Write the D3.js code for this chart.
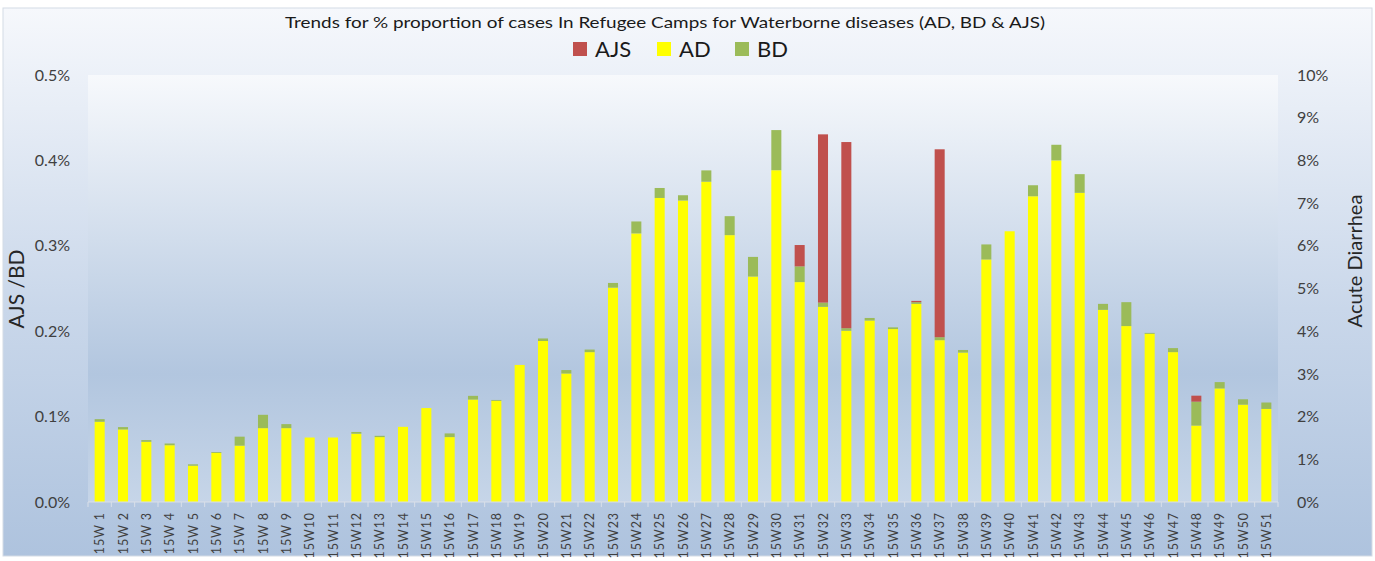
<!DOCTYPE html>
<html>
<head>
<meta charset="utf-8">
<script src="https://cdn.jsdelivr.net/npm/d3@7.9.0/dist/d3.min.js"></script>
<style>
  html, body { margin: 0; padding: 0; background: #fff; }
  svg { display: block; font-family: Lato, "Open Sans", sans-serif; }
</style>
</head>
<body>
<svg id="chart" width="1375" height="561"></svg>
<script>
const weeks = ['15W 1','15W 2','15W 3','15W 4','15W 5','15W 6','15W 7','15W 8','15W 9','15W10',
  '15W11','15W12','15W13','15W14','15W15','15W16','15W17','15W18','15W19','15W20',
  '15W21','15W22','15W23','15W24','15W25','15W26','15W27','15W28','15W29','15W30',
  '15W31','15W32','15W33','15W34','15W35','15W36','15W37','15W38','15W39','15W40',
  '15W41','15W42','15W43','15W44','15W45','15W46','15W47','15W48','15W49','15W50','15W51'];

// Acute Diarrhea, % (right axis)
const adValues = [1.88,1.70,1.41,1.33,0.85,1.15,1.32,1.73,1.73,1.51,
  1.51,1.60,1.52,1.76,2.20,1.52,2.40,2.37,3.21,3.77,
  3.01,3.51,5.02,6.29,7.12,7.06,7.50,6.25,5.28,7.77,
  5.15,4.57,4.01,4.25,4.05,4.64,3.79,3.50,5.68,6.34,
  7.16,8.00,7.24,4.50,4.12,3.94,3.51,1.79,2.66,2.28,2.18];

// Bloody Diarrhea, % (left axis)
const bdValues = [0.003,0.0027,0.002,0.002,0.0016,0.001,0.0105,0.0156,0.0047,0,
  0,0.002,0.0015,0,0,0.0043,0.0043,0.001,0,0.003,
  0.004,0.003,0.0055,0.014,0.0117,0.0062,0.0133,0.0222,0.023,0.047,
  0.0184,0.005,0.003,0.003,0.002,0.002,0.0035,0.003,0.0176,0,
  0.0129,0.0183,0.0219,0.007,0.028,0.001,0.0047,0.028,0.0074,0.0063,0.0075];

// Acute Jaundice Syndrome, % (left axis)
const ajsValues = [0,0,0,0,0,0,0,0,0,0,
  0,0,0,0,0,0,0,0,0,0,
  0,0,0,0,0,0,0,0,0,0,
  0.025,0.197,0.218,0,0,0.0015,0.220,0,0,0,
  0,0,0,0,0,0,0,0.007,0,0,0];

const leftTicks = [0, 0.1, 0.2, 0.3, 0.4, 0.5];
const rightTicks = [0,1,2,3,4,5,6,7,8,9,10];

const colors = { AJS: '#c0504d', AD: '#ffff00', BD: '#9bbb59' };
const legendItems = ['AJS', 'AD', 'BD'];

const svg = d3.select('#chart');
const defs = svg.append('defs');

const outerGrad = defs.append('linearGradient').attr('id', 'outerGrad')
  .attr('x1', 0).attr('y1', 0).attr('x2', 0).attr('y2', 1);
outerGrad.append('stop').attr('offset', '0%').attr('stop-color', '#f6f8fc');
outerGrad.append('stop').attr('offset', '55%').attr('stop-color', '#c9d7ea');
outerGrad.append('stop').attr('offset', '100%').attr('stop-color', '#aec3de');

const plotGrad = defs.append('linearGradient').attr('id', 'plotGrad')
  .attr('x1', 0).attr('y1', 0).attr('x2', 0).attr('y2', 1);
plotGrad.append('stop').attr('offset', '0%').attr('stop-color', '#f7f9fc');
plotGrad.append('stop').attr('offset', '70%').attr('stop-color', '#b2c6df');
plotGrad.append('stop').attr('offset', '100%').attr('stop-color', '#c6d5e8');

const margin = { top: 75, right: 1278, bottom: 502, left: 88 };

svg.append('rect')
  .attr('x', 3).attr('y', 8).attr('width', 1369).attr('height', 548)
  .attr('fill', 'url(#outerGrad)').attr('stroke', '#d4dbe5');

svg.append('rect')
  .attr('x', margin.left).attr('y', margin.top)
  .attr('width', margin.right - margin.left).attr('height', margin.bottom - margin.top)
  .attr('fill', 'url(#plotGrad)');

const x = d3.scaleBand().domain(weeks).range([margin.left, margin.right]).paddingInner(0.57).paddingOuter(0.285);
const yLeft = d3.scaleLinear().domain([0, 0.5]).range([margin.bottom, margin.top]);
const yRight = d3.scaleLinear().domain([0, 10]).range([margin.bottom, margin.top]);

const rows = weeks.map((w, i) => ({ week: w, ad: adValues[i], bd: bdValues[i], ajs: ajsValues[i] }));

const bars = svg.append('g').selectAll('g').data(rows).join('g');

bars.append('rect')
  .attr('x', d => x(d.week)).attr('width', x.bandwidth())
  .attr('y', d => yRight(d.ad))
  .attr('height', d => yRight(0) - yRight(d.ad))
  .attr('fill', colors.AD);

bars.filter(d => d.bd > 0).append('rect')
  .attr('x', d => x(d.week)).attr('width', x.bandwidth())
  .attr('y', d => yRight(d.ad) - (yLeft(0) - yLeft(d.bd)))
  .attr('height', d => yLeft(0) - yLeft(d.bd))
  .attr('fill', colors.BD);

bars.filter(d => d.ajs > 0).append('rect')
  .attr('x', d => x(d.week)).attr('width', x.bandwidth())
  .attr('y', d => yRight(d.ad) - (yLeft(0) - yLeft(d.bd + d.ajs)))
  .attr('height', d => yLeft(0) - yLeft(d.ajs))
  .attr('fill', colors.AJS);

// x axis with ticks between bands
const xAxisG = svg.append('g').attr('transform', `translate(0, ${margin.bottom})`);
xAxisG.append('line')
  .attr('x1', margin.left).attr('x2', margin.right)
  .attr('stroke', '#d9dfe8').attr('stroke-width', 1.2);
xAxisG.selectAll('line.tick')
  .data(weeks.concat(['end']))
  .join('line').attr('class', 'tick')
  .attr('x1', (d, i) => margin.left + i * x.step()).attr('x2', (d, i) => margin.left + i * x.step())
  .attr('y1', 0).attr('y2', 5)
  .attr('stroke', '#d9dfe8');
xAxisG.selectAll('text')
  .data(weeks)
  .join('text')
  .attr('transform', d => `translate(${x(d) + x.bandwidth() / 2 + 4.5}, 10) rotate(-90)`)
  .attr('text-anchor', 'end')
  .attr('font-size', 12.5)
  .attr('letter-spacing', 0.9)
  .attr('fill', '#404040')
  .text(d => d);

// left axis labels
svg.append('g').selectAll('text')
  .data(leftTicks)
  .join('text')
  .attr('x', 70).attr('y', d => yLeft(d))
  .attr('dy', '0.35em')
  .attr('text-anchor', 'end')
  .attr('font-size', 16)
  .attr('fill', '#404040')
  .text(d => d3.format('.1f')(d) + '%');

// right axis labels
svg.append('g').selectAll('text')
  .data(rightTicks)
  .join('text')
  .attr('x', 1297).attr('y', d => yRight(d))
  .attr('dy', '0.35em')
  .attr('text-anchor', 'start')
  .attr('font-size', 16)
  .attr('fill', '#404040')
  .text(d => d + '%');

svg.append('text')
  .attr('transform', 'translate(24, 289) rotate(-90)')
  .attr('text-anchor', 'middle')
  .attr('font-size', 21)
  .attr('fill', '#262626')
  .text('AJS /BD');

svg.append('text')
  .attr('transform', 'translate(1362, 261) rotate(-90)')
  .attr('text-anchor', 'middle')
  .attr('font-size', 20)
  .attr('fill', '#262626')
  .text('Acute Diarrhea');

svg.append('text')
  .attr('x', 665).attr('y', 28)
  .attr('text-anchor', 'middle')
  .attr('font-size', 16)
  .attr('textLength', 760).attr('lengthAdjust', 'spacingAndGlyphs')
  .attr('fill', '#1a1a1a')
  .text('Trends for % proportion of cases In Refugee Camps for Waterborne diseases (AD, BD & AJS)');

// legend
const legendX = [573, 657, 735];
const legend = svg.append('g').selectAll('g')
  .data(legendItems)
  .join('g')
  .attr('transform', (d, i) => `translate(${legendX[i]}, 42)`);
legend.append('rect')
  .attr('width', 14).attr('height', 14)
  .attr('fill', d => colors[d]);
legend.append('text')
  .attr('x', 22).attr('y', 15)
  .attr('font-size', 22)
  .attr('fill', '#1a1a1a')
  .text(d => d);
</script>
</body>
</html>
